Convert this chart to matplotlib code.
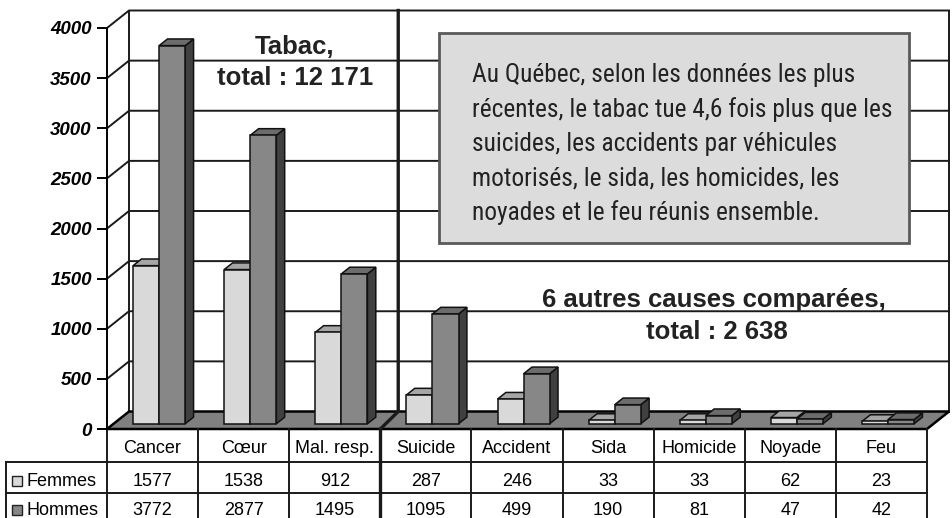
import matplotlib.pyplot as plt
import numpy as np
from matplotlib.patches import Polygon, Rectangle
from matplotlib.transforms import Affine2D

# data
categories = ['Cancer', 'Cœur', 'Mal. resp.', 'Suicide', 'Accident',
              'Sida', 'Homicide', 'Noyade', 'Feu']
femmes = [1577, 1538, 912, 287, 246, 33, 33, 62, 23]
hommes = [3772, 2877, 1495, 1095, 499, 190, 81, 47, 42]
series_names = ['Femmes', 'Hommes']
yticks = [0, 500, 1000, 1500, 2000, 2500, 3000, 3500, 4000]
note_lines = ['Au Québec, selon les données les plus',
              'récentes, le tabac tue 4,6 fois plus que les',
              'suicides, les accidents par véhicules',
              'motorisés, le sida, les homicides, les',
              'noyades et le feu réunis ensemble.']

plt.rcParams['font.family'] = ['Liberation Sans', 'DejaVu Sans']

W, H = 953, 518
fig = plt.figure(figsize=(W / 100, H / 100), dpi=100)
# pixel transform, origin top-left
pix = Affine2D().scale(1 / W, -1 / H).translate(0, 1) + fig.transFigure

# front plane of the 3-D box (pixels)
X0, X1, YB, YT = 107, 927, 429, 28
ax = fig.add_axes([X0 / W, 1 - YB / H, (X1 - X0) / W, (YB - YT) / H])
n = len(categories)
ax.set_xlim(0, n)
ax.set_ylim(0, 4000)

# depth offset of the box (pixels -> data)
DX, DY = 22, 17.5
ddx = DX * n / (X1 - X0)
ddy = DY * 4000 / (YB - YT)


def P(x, y, d):
    return (x + d * ddx, y + d * ddy)


# floor
ax.add_patch(Polygon([P(0, 0, 0), P(n, 0, 0), P(n, 0, 1), P(0, 0, 1)],
                     closed=True, fc='#808080', ec='black', lw=1.8,
                     clip_on=False, zorder=1))

# walls and gridlines
for v in yticks[1:]:
    pts = [P(0, v, 0), P(0, v, 1), P(n, v, 1)]
    ax.plot([p[0] for p in pts], [p[1] for p in pts], color='#1a1a1a',
            lw=1.4, clip_on=False, zorder=0.5)
for xx in (0, n):
    pts = [P(xx, 0, 1), P(xx, 4000, 1)]
    ax.plot([p[0] for p in pts], [p[1] for p in pts], color='#1a1a1a',
            lw=1.4, clip_on=False, zorder=0.5)

# divider between tabac causes and the other causes
pts = [P(3, 0, 0), P(3 - 0.045, 0, 1), P(3 - 0.045, 4000, 1)]
ax.plot([p[0] for p in pts], [p[1] for p in pts], color='#1a1a1a',
        lw=2.4, clip_on=False, zorder=1.5)

# bars
bw = 0.286
d0, d1 = 0.3, 0.68
faces = {
    0: ('#d9d9d9', '#a6a6a6', '#8f8f8f'),
    1: ('#878787', '#6c6c6c', '#404040'),
}
for i in range(n):
    for s, vals in enumerate([femmes, hommes]):
        v = vals[i]
        x0 = i + 0.5 - bw + s * bw
        fc, tc, sc = faces[s]
        side = [P(x0 + bw, 0, d0), P(x0 + bw, v, d0), P(x0 + bw, v, d1), P(x0 + bw, 0, d1)]
        top = [P(x0, v, d0), P(x0 + bw, v, d0), P(x0 + bw, v, d1), P(x0, v, d1)]
        front = [P(x0, 0, d0), P(x0 + bw, 0, d0), P(x0 + bw, v, d0), P(x0, v, d0)]
        for poly, c in ((side, sc), (top, tc), (front, fc)):
            ax.add_patch(Polygon(poly, closed=True, fc=c, ec='#111111', lw=1.1,
                                 clip_on=False, zorder=3))

# axes styling
for sp in ('top', 'right', 'bottom'):
    ax.spines[sp].set_visible(False)
ax.spines['left'].set_linewidth(1.4)
ax.set_xticks([])
ax.set_yticks(yticks)
ax.set_yticklabels([str(t) for t in yticks])
ax.tick_params(axis='y', direction='out', length=7, width=1.4, pad=4,
               labelsize=13.5)
for lbl in ax.get_yticklabels():
    lbl.set_fontweight('bold')
    lbl.set_fontstyle('italic')
ax.patch.set_alpha(0)

# data table below the floor
col_x = [ax.transData.transform((k, 0))[0] for k in range(n + 1)]
row_y = [YB, 462, 493, 530]
lab_x = 6
lw_t = 1.4
for y in row_y[1:]:
    ax.plot([lab_x, col_x[-1]], [y, y], color='#1a1a1a', lw=lw_t,
            transform=pix, clip_on=False, zorder=2)
for k, x in enumerate(col_x):
    ax.plot([x, x], [YB, row_y[-1]], color='#1a1a1a',
            lw=2.4 if k == 3 else lw_t, transform=pix, clip_on=False, zorder=2)
ax.plot([lab_x, lab_x], [row_y[1], row_y[-1]], color='#1a1a1a', lw=lw_t,
        transform=pix, clip_on=False, zorder=2)

tfs = 13
base_h = 515
for k, cat in enumerate(categories):
    cx = (col_x[k] + col_x[k + 1]) / 2
    ax.text(cx, 453, cat, ha='center', va='baseline', fontsize=tfs,
            transform=pix)
    ax.text(cx, 486, str(femmes[k]), ha='center', va='baseline', fontsize=tfs,
            transform=pix)
    ax.text(cx, base_h, str(hommes[k]), ha='center', va='baseline', fontsize=tfs,
            transform=pix)
for r, (name, base) in enumerate(zip(series_names, [486, base_h])):
    ax.add_patch(Rectangle((12, base - 10.5), 10, 10, fc=faces[r][0],
                           ec='#222222', lw=1.0, transform=pix, clip_on=False,
                           zorder=4))
    ax.text(27, base, name, ha='left', va='baseline', fontsize=tfs,
            transform=pix)

# annotations
bfs = 18.5
ax.text(295, 54, 'Tabac,', ha='center', va='baseline', fontsize=bfs,
        fontweight='bold', color='#222222', transform=pix, zorder=6)
ax.text(295, 85, 'total : 12 171', ha='center', va='baseline', fontsize=bfs,
        fontweight='bold', color='#222222', transform=pix, zorder=6)
ax.text(714, 307, '6 autres causes comparées,', ha='center', va='baseline',
        fontsize=bfs, fontweight='bold', color='#222222', transform=pix, zorder=6)
ax.text(717, 339, 'total : 2 638', ha='center', va='baseline',
        fontsize=bfs, fontweight='bold', color='#222222', transform=pix, zorder=6)

# grey note box
ax.add_patch(Rectangle((439, 33), 470, 210, fc='#dcdcdc', ec='#5a5a5a',
                       lw=2, transform=pix, clip_on=False, zorder=5))
for j, line in enumerate(note_lines):
    ax.text(472, 82 + 34.5 * j, line, ha='left', va='baseline', fontsize=18.3,
            family=['Roboto Condensed', 'Archivo Narrow', 'Liberation Sans'],
            color='#222222', transform=pix, zorder=6)

fig.savefig('out.png', dpi=100)
